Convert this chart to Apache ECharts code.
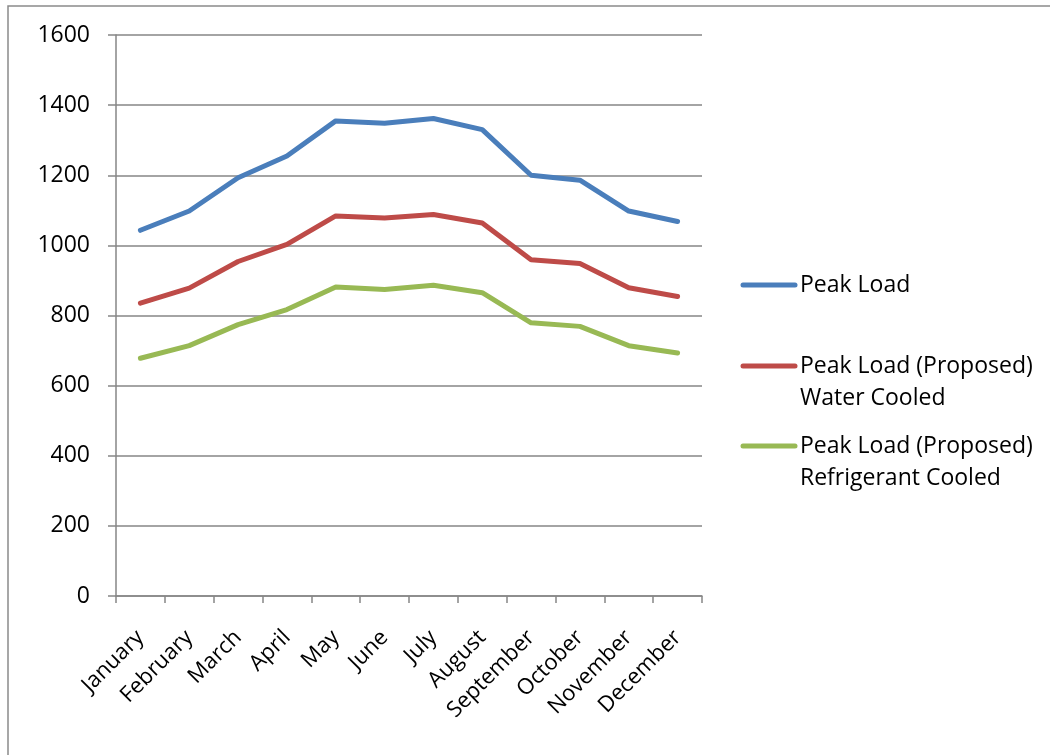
<!DOCTYPE html>
<html>
<head>
<meta charset="utf-8">
<script src="https://cdn.jsdelivr.net/npm/echarts@6/dist/echarts.min.js"></script>
<style>
  html, body { margin: 0; padding: 0; background: #fff; }
  #chart { width: 1050px; height: 755px; }
</style>
</head>
<body>
<div id="chart"></div>
<script>
// Monthly peak load, current vs. proposed cooling options
var months = ['January', 'February', 'March', 'April', 'May', 'June',
              'July', 'August', 'September', 'October', 'November', 'December'];
var peakLoad = [1043, 1098, 1193, 1255, 1355, 1348, 1362, 1330, 1200, 1186, 1098, 1068];
var peakWater = [835, 878, 954, 1003, 1084, 1078, 1088, 1064, 959, 948, 879, 854];
var peakRefrigerant = [678, 714, 774, 817, 881, 874, 886, 865, 779, 769, 714, 693];
var seriesNames = ['Peak Load', 'Peak Load (Proposed)\nWater Cooled', 'Peak Load (Proposed)\nRefrigerant Cooled'];
var colors = ['#4A7EBB', '#BE4B48', '#98B954'];

var FONT = 'Open Sans';
var GRID_COLOR = '#868686';

var chart = echarts.init(document.getElementById('chart'), null, { renderer: 'canvas' });

function lineSeries(name, data, color) {
  return {
    name: name,
    type: 'line',
    data: data,
    symbol: 'none',
    smooth: false,
    lineStyle: { color: color, width: 5, cap: 'round', join: 'round' },
    itemStyle: { color: color },
    animation: false
  };
}

// Legend drawn as line swatches with text; first text line sits beside the swatch
var legendTop = [285, 366, 446];
var legendGraphics = [];
seriesNames.forEach(function (name, i) {
  legendGraphics.push({
    type: 'line',
    shape: { x1: 743, y1: legendTop[i], x2: 795, y2: legendTop[i] },
    style: { stroke: colors[i], lineWidth: 5, lineCap: 'round' },
    silent: true
  });
  legendGraphics.push({
    type: 'text',
    x: 800,
    y: legendTop[i] - 16,
    style: {
      text: name,
      fill: '#000',
      font: '23px "' + FONT + '"',
      lineHeight: 32,
      textVerticalAlign: 'top'
    },
    silent: true
  });
});

chart.setOption({
  animation: false,
  backgroundColor: '#fff',
  grid: { left: 116, right: 348, top: 35, bottom: 159, containLabel: false },
  xAxis: {
    type: 'category',
    data: months,
    boundaryGap: true,
    axisLine: { show: true, lineStyle: { color: GRID_COLOR, width: 1.5 } },
    axisTick: { show: true, alignWithLabel: false, length: 7, lineStyle: { color: GRID_COLOR, width: 1.5 } },
    axisLabel: {
      rotate: 45,
      interval: 0,
      margin: 38,
      color: '#000',
      fontFamily: FONT,
      fontSize: 22
    },
    splitLine: { show: false }
  },
  yAxis: {
    type: 'value',
    min: 0,
    max: 1600,
    interval: 200,
    axisLine: { show: true, lineStyle: { color: GRID_COLOR, width: 1.5 } },
    axisTick: { show: true, inside: false, length: 8, lineStyle: { color: GRID_COLOR, width: 1.5 } },
    axisLabel: {
      margin: 26,
      color: '#000',
      fontFamily: FONT,
      fontSize: 23,
      formatter: function (v) { return String(v); }
    },
    splitLine: { show: true, lineStyle: { color: GRID_COLOR, width: 1.5 } }
  },
  series: [
    lineSeries(seriesNames[0], peakLoad, colors[0]),
    lineSeries(seriesNames[1], peakWater, colors[1]),
    lineSeries(seriesNames[2], peakRefrigerant, colors[2])
  ],
  graphic: [
    {
      type: 'rect',
      shape: { x: 8, y: 6, width: 1200, height: 1000 },
      style: { fill: 'none', stroke: '#8a8a8a', lineWidth: 1.5 },
      silent: true,
      z: -1
    }
  ].concat(legendGraphics)
});
</script>
</body>
</html>
